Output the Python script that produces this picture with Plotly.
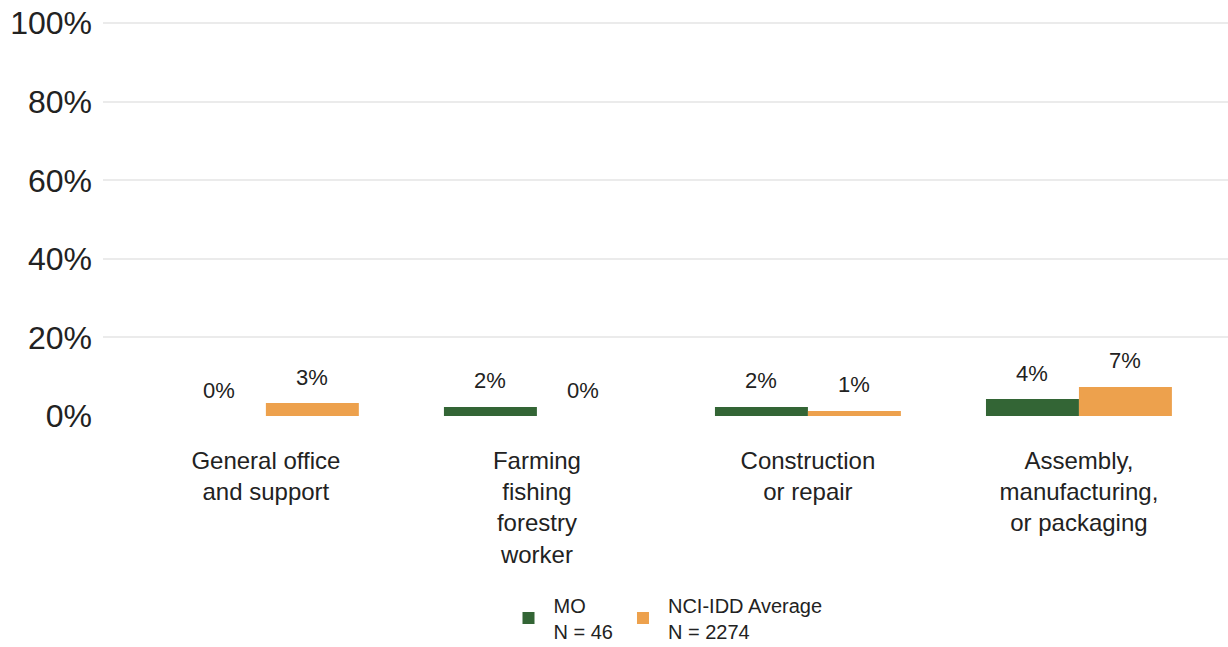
import plotly.graph_objects as go

categories = ["General office<br>and support", "Farming<br>fishing<br>forestry<br>worker",
              "Construction<br>or repair", "Assembly,<br>manufacturing,<br>or packaging"]
mo_values = [0.0, 2.3, 2.3, 4.3]
nci_values = [3.3, 0.0, 1.3, 7.4]
series_names = ["MO<br>N = 46", "NCI-IDD Average<br>N = 2274"]
colors = ["#336535", "#EDA14D"]

xs = list(range(len(categories)))
bargap = 0.314
half = (1 - bargap) / 4

fig = go.Figure()
for vals, name, col in [(mo_values, series_names[0], colors[0]), (nci_values, series_names[1], colors[1])]:
    fig.add_trace(go.Bar(x=xs, y=vals, name=name, marker=dict(color=col, line=dict(width=0))))

annotations = []
for vals, sign in [(mo_values, -1), (nci_values, 1)]:
    for x, v in zip(xs, vals):
        annotations.append(dict(x=x + sign * half, y=v, xref="x", yref="y", text=f"{round(v):.0f}%",
                                showarrow=False, yshift=26, font=dict(size=22, color="#222")))

fig.update_layout(
    width=1228, height=647,
    margin=dict(l=103, r=0, t=22, b=231, autoexpand=False),
    paper_bgcolor="white", plot_bgcolor="white",
    barmode="group", bargap=bargap, bargroupgap=0,
    font=dict(family="Liberation Sans, Arial, sans-serif", color="#222"),
    xaxis=dict(tickvals=xs, ticktext=categories, range=[-0.601, 3.550], showgrid=False,
               zeroline=False, showline=False, ticks="", tickfont=dict(size=24, color="#222"),
               ticklabelstandoff=28, automargin=False),
    yaxis=dict(range=[0, 100.3], tick0=0, dtick=20, ticksuffix="%", showgrid=True,
               gridcolor="#ebebeb", gridwidth=2, zeroline=False, showline=False,
               tickfont=dict(size=32, color="#222"), ticklabelstandoff=10, automargin=False,
               ticklabeloverflow="allow"),
    legend=dict(orientation="h", x=0.5, xanchor="center", y=-0.43, yanchor="top",
                font=dict(size=20, color="#222"), itemwidth=40),
    annotations=annotations,
)

fig.write_html("out.html", config={"displayModeBar": False},
               post_script="document.body.style.margin='0';")
